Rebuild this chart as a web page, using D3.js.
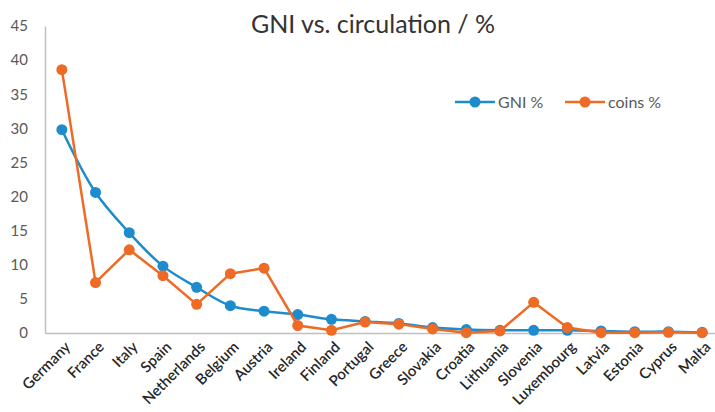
<!DOCTYPE html>
<html>
<head>
<meta charset="utf-8">
<script src="https://cdn.jsdelivr.net/npm/d3@7"></script>
<style>
  body { margin: 0; background: #fff; }
  svg { display: block; font-family: Lato, "Open Sans", sans-serif; }
</style>
</head>
<body>
<div id="chart"></div>
<script>
const countries = ['Germany', 'France', 'Italy', 'Spain', 'Netherlands', 'Belgium', 'Austria', 'Ireland',
  'Finland', 'Portugal', 'Greece', 'Slovakia', 'Croatia', 'Lithuania', 'Slovenia', 'Luxembourg',
  'Latvia', 'Estonia', 'Cyprus', 'Malta']
const gniPct = [29.8, 20.6, 14.7, 9.8, 6.7, 4.0, 3.2, 2.7, 2.0, 1.7, 1.4, 0.8, 0.5, 0.4, 0.4, 0.4, 0.3, 0.2, 0.2, 0.1]
const coinsPct = [38.6, 7.4, 12.2, 8.4, 4.2, 8.7, 9.5, 1.1, 0.4, 1.6, 1.3, 0.6, 0.05, 0.3, 4.5, 0.8, 0.05, 0.05, 0.1, 0.05]
const yTicks = [0, 5, 10, 15, 20, 25, 30, 35, 40, 45]

const width = 715
const height = 412
const margin = { top: 26, right: -4, bottom: 79, left: 45 }
const innerW = width - margin.left - margin.right
const innerH = height - margin.top - margin.bottom

const svg = d3.select('#chart').append('svg')
  .attr('width', width)
  .attr('height', height)

const g = svg.append('g').attr('transform', `translate(${margin.left},${margin.top})`)

const x = d3.scalePoint().domain(countries).range([0, innerW]).padding(0.5)
const y = d3.scaleLinear().domain([0, 45]).range([innerH, 0])

// Title
svg.append('text')
  .attr('x', 373)
  .attr('y', 33)
  .attr('text-anchor', 'middle')
  .attr('fill', '#333')
  .attr('font-size', '25px')
  .text('GNI vs. circulation / %')

// Y axis
const yAxis = g.append('g')
  .call(d3.axisLeft(y).tickValues(yTicks).tickSize(0).tickPadding(17))
yAxis.select('.domain').attr('stroke', '#bfbfbf').attr('stroke-width', 1.5)
yAxis.selectAll('text').attr('fill', '#595959').attr('font-size', '15px').attr('font-family', 'Lato, sans-serif')

// X axis
const xAxis = g.append('g')
  .attr('transform', `translate(0,${innerH})`)
  .call(d3.axisBottom(x).tickSize(0).tickPadding(6))
xAxis.select('.domain').attr('stroke', '#bfbfbf').attr('stroke-width', 1.5)
xAxis.selectAll('text')
  .attr('fill', '#262626')
  .attr('font-size', '15px')
  .attr('font-weight', 600)
  .attr('font-family', 'Lato, sans-serif')
  .attr('text-anchor', 'end')
  .attr('dy', '0.35em')
  .attr('transform', 'translate(1,7) rotate(-45)')

const series = [
  { name: 'GNI %', values: gniPct, color: '#1e8bcd', curve: d3.curveCatmullRom },
  { name: 'coins %', values: coinsPct, color: '#ed6b25', curve: d3.curveLinear }
]

series.forEach(s => {
  const pts = countries.map((c, i) => ({ c, v: s.values[i] }))
  const line = d3.line().x(d => x(d.c)).y(d => y(d.v)).curve(s.curve)
  g.append('path')
    .datum(pts)
    .attr('fill', 'none')
    .attr('stroke', s.color)
    .attr('stroke-width', 2.5)
    .attr('d', line)
  g.selectAll(null)
    .data(pts)
    .join('circle')
    .attr('cx', d => x(d.c))
    .attr('cy', d => y(d.v))
    .attr('r', 5.5)
    .attr('fill', s.color)
})

// Legend
const legendPos = [455, 565]
series.forEach((s, i) => {
  const lg = svg.append('g').attr('transform', `translate(${legendPos[i]},102)`)
  lg.append('line').attr('x1', 0).attr('x2', 40).attr('stroke', s.color).attr('stroke-width', 2.5)
  lg.append('circle').attr('cx', 20).attr('r', 5.5).attr('fill', s.color)
  lg.append('text')
    .attr('x', 43)
    .attr('dy', '0.35em')
    .attr('fill', '#595959')
    .attr('font-size', '16px')
    .text(s.name)
})
</script>
</body>
</html>
